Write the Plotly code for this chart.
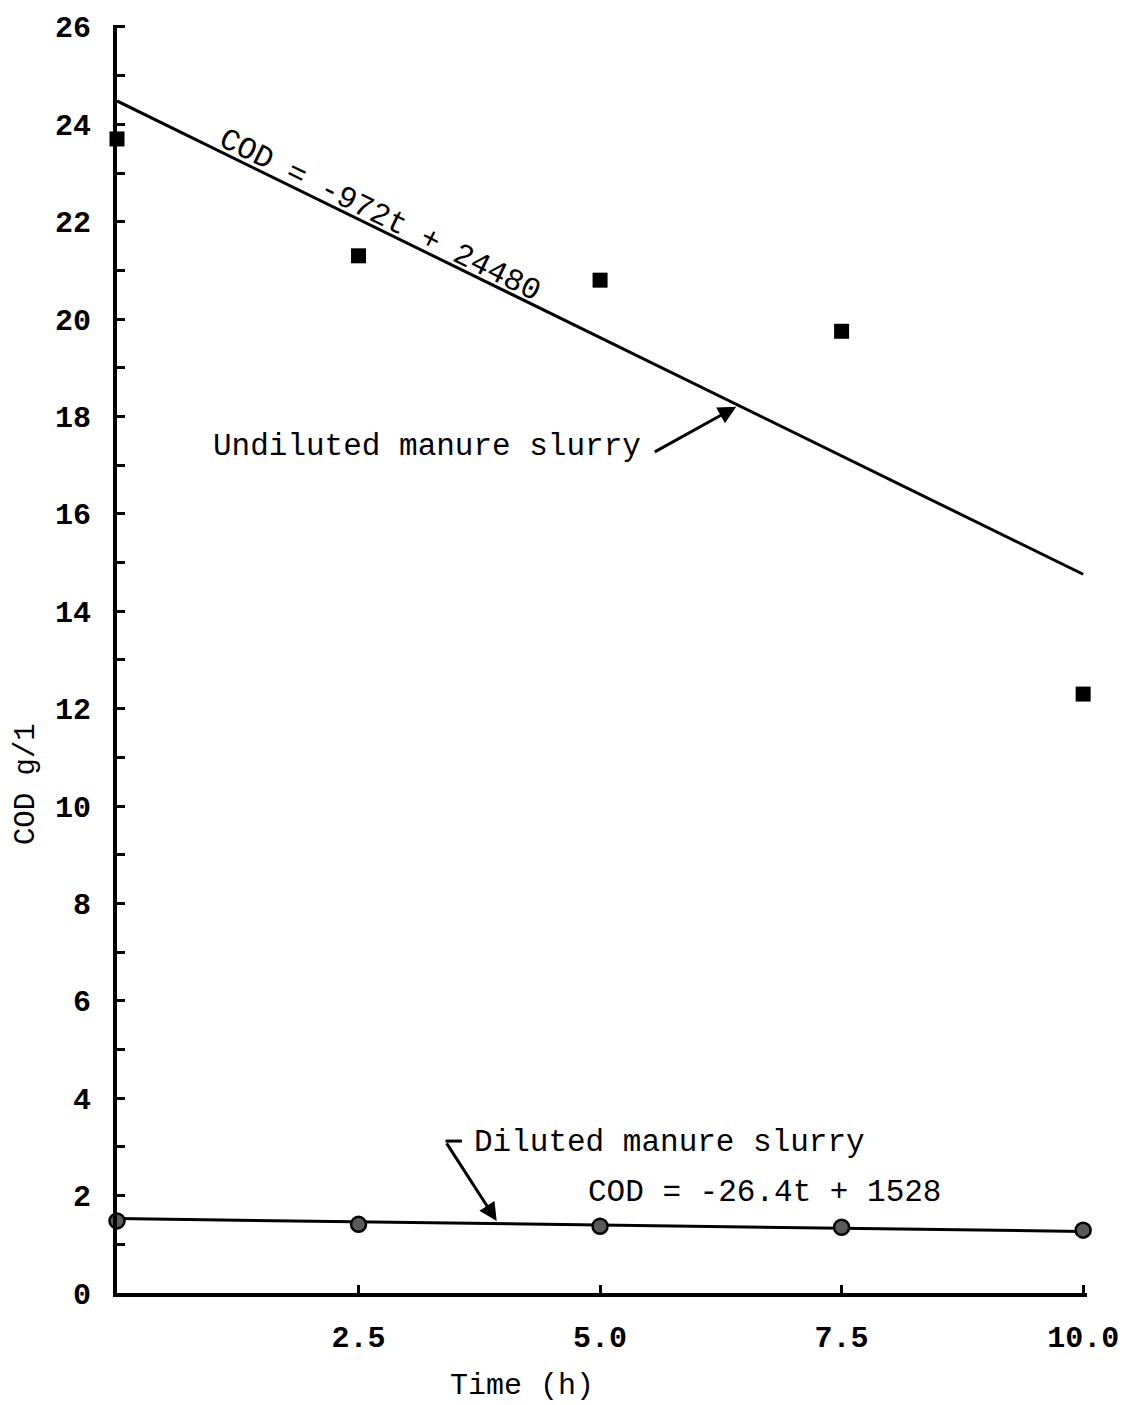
import plotly.graph_objects as go

# Data
time_h = [0, 2.5, 5.0, 7.5, 10.0]
cod_undiluted = [23.7, 21.3, 20.8, 19.75, 12.3]
cod_diluted = [1.48, 1.41, 1.37, 1.35, 1.29]
fit_t = [0, 10]
fit_undiluted = [24.48, 14.76]   # COD = -972t + 24480 (mg/l)
fit_diluted = [1.528, 1.264]     # COD = -26.4t + 1528 (mg/l)
x_tickvals = [2.5, 5.0, 7.5, 10.0]
x_ticktext = ["2.5", "5.0", "7.5", "10.0"]

FONT = "Liberation Mono"

fig = go.Figure()
fig.add_trace(go.Scatter(x=fit_t, y=fit_undiluted, mode="lines",
                         line=dict(color="black", width=3), showlegend=False))
fig.add_trace(go.Scatter(x=fit_t, y=fit_diluted, mode="lines",
                         line=dict(color="black", width=3), showlegend=False))
fig.add_trace(go.Scatter(x=time_h, y=cod_undiluted, mode="markers",
                         marker=dict(symbol="square", size=15, color="black"),
                         cliponaxis=False, showlegend=False))
fig.add_trace(go.Scatter(x=time_h, y=cod_diluted, mode="markers",
                         marker=dict(symbol="circle", size=15, color="#5a5a5a",
                                     line=dict(color="black", width=2.5)),
                         cliponaxis=False, showlegend=False))

annos = [
    dict(x=2.72, y=22.12, xref="x", yref="y", text="COD = -972t + 24480",
         textangle=26.2, showarrow=False, xanchor="center", yanchor="middle",
         font=dict(family=FONT, size=31, color="black")),
    dict(x=3.206, y=17.39, xref="x", yref="y", text="Undiluted manure slurry",
         showarrow=False, xanchor="center", yanchor="middle",
         font=dict(family=FONT, size=31, color="black")),
    dict(x=6.41, y=18.2, xref="x", yref="y", text="", showarrow=True,
         ax=-83, ay=46, arrowhead=2, arrowsize=1.2, arrowwidth=3, arrowcolor="black", standoff=0),
    dict(x=3.67, y=3.10, xref="x", yref="y", text="Diluted manure slurry",
         xanchor="left", yanchor="middle", showarrow=False,
         font=dict(family=FONT, size=31, color="black")),
    dict(x=3.93, y=1.48, xref="x", yref="y", text="", showarrow=True,
         ax=-51, ay=-79, arrowhead=2, arrowsize=1.2, arrowwidth=3, arrowcolor="black", standoff=0),
    dict(x=4.856, y=2.07, xref="x", yref="y", text="COD = -26.4t + 1528",
         xanchor="left", yanchor="middle", showarrow=False,
         font=dict(family=FONT, size=31, color="black")),
    dict(x=-0.0934, y=10.46, xref="paper", yref="y", text="COD g/1", textangle=-90,
         xanchor="center", yanchor="middle", showarrow=False,
         font=dict(family=FONT, size=29, color="black")),
    dict(x=4.196, y=-0.0732, xref="x", yref="paper", text="Time (h)",
         xanchor="center", yanchor="middle", showarrow=False,
         font=dict(family=FONT, size=30, color="black")),
]

fig.update_layout(
    width=1131, height=1405,
    margin=dict(l=117, r=37, t=23, b=112),
    paper_bgcolor="white", plot_bgcolor="white",
    annotations=annos,
    shapes=[dict(type="line", xref="x", yref="y", x0=3.40, x1=3.57, y0=3.12, y1=3.12,
                 line=dict(color="black", width=3))],
    xaxis=dict(range=[0, 10.04], showgrid=False, zeroline=False,
               showline=True, linecolor="black", linewidth=4,
               tickvals=x_tickvals, ticktext=x_ticktext,
               ticks="inside", ticklen=8, tickwidth=3, tickcolor="black",
               ticklabelstandoff=14,
               tickfont=dict(family=FONT, size=30, color="black", weight="bold")),
    yaxis=dict(range=[0, 26.04], showgrid=False, zeroline=False,
               showline=True, linecolor="black", linewidth=4,
               tick0=0, dtick=2,
               ticks="inside", ticklen=8, tickwidth=3, tickcolor="black",
               minor=dict(dtick=1, ticks="inside", ticklen=8, tickwidth=3, tickcolor="black"),
               ticklabelstandoff=16,
               tickfont=dict(family=FONT, size=30, color="black", weight="bold")),
)

fig.write_html("out.html")
